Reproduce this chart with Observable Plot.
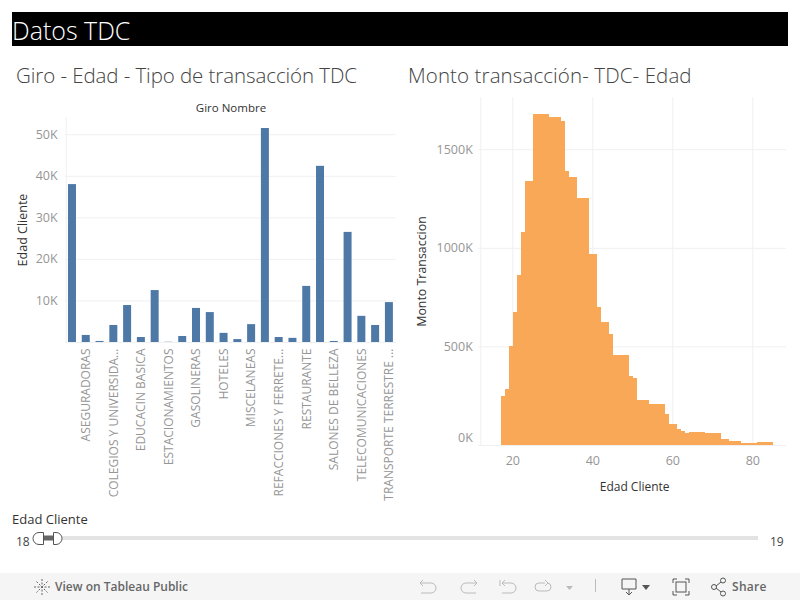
<!DOCTYPE html>
<html><head><meta charset="utf-8">
<script src="https://cdn.jsdelivr.net/npm/d3@7"></script>
<script src="https://cdn.jsdelivr.net/npm/@observablehq/plot@0.6"></script>
<style>
html,body{margin:0;padding:0;background:#fff;}
body{width:800px;height:600px;position:relative;overflow:hidden;font-family:"Open Sans",sans-serif;}
.abs{position:absolute;white-space:nowrap;}
#banner{left:12px;top:12px;width:776px;height:34px;background:#000;color:#fff;font-size:25px;line-height:36px;font-weight:300;}
.sub{top:62px;font-size:20.5px;line-height:26px;color:#444;font-weight:300;}
#chartA,#chartB{position:absolute;}
#chartA{left:0;top:95px;}
#chartB{left:400px;top:95px;}
#bar{left:0;top:573px;width:800px;height:27px;background:#f5f5f5;}
</style></head><body>
<div id="banner" class="abs">Datos TDC</div>
<div class="abs sub" style="left:16px;letter-spacing:-.08px">Giro - Edad - Tipo de transacción TDC</div>
<div class="abs sub" style="left:408px;letter-spacing:.1px">Monto transacción- TDC- Edad</div>
<div id="chartA"></div>
<div id="chartB"></div>
<div class="abs" style="left:12px;top:510px;font-size:13px;line-height:18px;color:#333">Edad Cliente</div>
<div class="abs" style="left:16px;top:532.500px;font-size:12px;line-height:18px;color:#444">18</div>
<div class="abs" style="left:770px;top:532.500px;font-size:12px;line-height:18px;color:#444">19</div>
<svg class="abs" style="left:0;top:525px" width="800" height="26">
<rect x="62" y="11" width="696" height="4" fill="#e3e3e3"/>
<rect x="42" y="10.5" width="12" height="5" fill="#666"/>
<path d="M43.5 7.5H39a6 6 0 0 0 0 12h4.5z" fill="#fff" stroke="#555"/>
<path d="M53.5 7.5H56a6 6 0 0 1 0 12h-2.5z" fill="#fff" stroke="#555"/>
</svg>
<div id="bar" class="abs"></div>
<svg class="abs" style="left:0;top:573px" width="800" height="27" fill="none" stroke="#bbb" stroke-width="1">
<g stroke="#666" stroke-dasharray="2 1.5"><path d="M42 6v16M34 14h16M36.5 8.5l11 11M47.5 8.5l-11 11"/></g>
<path d="M420 10h11a5 5 0 0 1 0 10h-10M423 7l-3 3 3 3"/>
<path d="M477 10h-11a5 5 0 0 0 0 10h10M474 7l3 3-3 3"/>
<path d="M502 10h9a5 5 0 0 1 0 10h-9M505 7l-3 3 3 3M500 7v6"/>
<path d="M539 10h6M539 10a4 4 0 0 0 0 8h8a4 4 0 0 0 0-8M545 7l3 3-3 3"/>
<path d="M566 13h7l-3.500 4z" fill="#bbb" stroke="none"/>
<path d="M595.500 6v13"/>
<g stroke="#555"><path d="M629 16h-7V6h14v10h-7v6M626 19l3 3 3-3"/><path d="M642 12h8l-4 5z" fill="#555" stroke="none"/>
<path d="M673 10V6h4M685 6h4v4M689 18v4h-4M677 22h-4v-4"/><rect x="676" y="9" width="10" height="10"/>
<circle cx="723" cy="7.500" r="2.500"/><circle cx="723" cy="20.500" r="2.500"/><circle cx="714" cy="14" r="2.500"/><path d="M716 13l5-4M716 15l5 4"/></g>
</svg>
<div class="abs" style="left:55px;top:578px;font-size:12px;line-height:18px;color:#666;font-weight:600">View on Tableau Public</div>
<div class="abs" style="left:732px;top:578px;font-size:12px;line-height:18px;color:#666;font-weight:600;letter-spacing:.3px">Share</div>
<script>
const giroNombres = ["Agencias de viajes","ASEGURADORAS","Beneficencia","COLEGIOS Y UNIVERSIDA...","Comida rapida","EDUCACIN BASICA","Entretenimiento","ESTACIONAMIENTOS","Farmacias","GASOLINERAS","Gobierno","HOTELES","Hospitales","MISCELANEAS","Otros servicios","REFACCIONES Y FERRETE...","Renta de autos","RESTAURANTE","Retail","SALONES DE BELLEZA","Supermercados","TELECOMUNICACIONES","Transporte aereo","TRANSPORTE TERRESTRE ..."];
const giroLabels = ["ASEGURADORAS","COLEGIOS Y UNIVERSIDA...","EDUCACIN BASICA","ESTACIONAMIENTOS","GASOLINERAS","HOTELES","MISCELANEAS","REFACCIONES Y FERRETE...","RESTAURANTE","SALONES DE BELLEZA","TELECOMUNICACIONES","TRANSPORTE TERRESTRE ..."];
const giroEdad = [38000,1700,250,4100,8900,1200,12500,50,1450,8200,7200,2200,700,4300,51500,1200,1000,13500,42400,250,26500,6300,4100,9600];
const giroTicks = [10000,20000,30000,40000,50000];

const edades = [18,19,20,21,22,23,24,25,26,27,28,29,30,31,32,33,34,35,36,37,38,39,40,41,42,43,44,45,46,47,48,49,50,51,52,53,54,55,56,57,58,59,60,61,62,63,64,65,66,67,68,69,70,71,72,73,74,75,76,77,78,79,80,81,82,83,84,85];
const montos = [248,284,500,674,861,1079,1338,1338,1677,1677,1677,1677,1662,1662,1662,1642,1389,1358,1358,1252,1252,1252,968,968,699,623,623,562,456,456,456,456,350,340,228,228,228,208,208,208,208,157,106,106,81,71,59,66,66,66,66,61,61,61,61,30,30,20,20,20,10,10,10,10,15,15,15,15];
const montoTicks = [500,1000,1500];
const edadTicks = [20,40,60,80];

const font = '"Open Sans",sans-serif';
const grid = "#f0f0f0", tickColor = "#969696", titleColor = "#333";
const kFmt = d => d/1000 + "K";

const giroRows = giroNombres.map((g,i)=>({g, v:giroEdad[i]}));
document.getElementById("chartA").append(Plot.plot({
  width:400, height:410, marginLeft:65.1, marginRight:4.200, marginTop:22, marginBottom:163,
  style:{fontFamily:font, fontSize:"11px", background:"transparent"},
  x:{domain:giroNombres, paddingInner:0.42, paddingOuter:0.21, align:0.5, round:false},
  y:{domain:[0,54150], ticks:giroTicks},
  marks:[
    Plot.ruleY([0,...giroTicks],{stroke:grid, strokeWidth:1}),
    Plot.ruleX([giroNombres[0]],{stroke:grid, dx:-6.3}),
    Plot.barY(giroRows,{x:"g", y:"v", fill:"#4e79a7"}),
    Plot.axisY({ticks:giroTicks, tickFormat:kFmt, tickSize:0, tickPadding:8, color:tickColor, label:null, fontSize:12.5}),
    Plot.axisX({ticks:giroLabels, tickRotate:-90, tickSize:0, tickPadding:6, color:tickColor, label:null, fontSize:12}),
    Plot.text(["Giro Nombre"],{frameAnchor:"top", dy:-9, lineAnchor:"middle", fill:titleColor, fontSize:11.5}),
    Plot.text(["Edad Cliente"],{frameAnchor:"left", textAnchor:"middle", dx:-43, rotate:-90, fill:titleColor, fontSize:12.5})
  ]
}));

const edadRows = edades.map((e,i)=>({e, m:montos[i]*1000}));
document.getElementById("chartB").append(Plot.plot({
  width:400, height:405, marginLeft:80.3, marginRight:12, marginTop:2, marginBottom:55,
  style:{fontFamily:font, fontSize:"11px", background:"transparent"},
  x:{domain:[12,88.93]},
  y:{domain:[0,1765000]},
  marks:[
    Plot.ruleY([0,...montoTicks].map(d=>d*1000),{stroke:grid, dx:-2}),
    Plot.ruleX([12,...edadTicks],{stroke:grid}),
    Plot.rectY(edadRows,{x1:d=>d.e-0.83, x2:d=>d.e+0.17, y:"m", fill:"#f9a857", shapeRendering:"crispEdges"}),
    Plot.axisY({ticks:montoTicks.map(d=>d*1000), tickFormat:kFmt, tickSize:0, tickPadding:8, color:tickColor, label:null, fontSize:12.5}),
    Plot.axisY({ticks:[0], tickFormat:()=>"0K", tickSize:0, tickPadding:8, dy:-8, color:tickColor, label:null, fontSize:12.5}),
    Plot.axisX({ticks:edadTicks, tickSize:0, tickPadding:11, color:tickColor, label:null, fontSize:12.5}),
    Plot.text(["Edad Cliente"],{frameAnchor:"bottom", dy:42, lineAnchor:"middle", fill:titleColor, fontSize:12}),
    Plot.text(["Monto Transaccion"],{frameAnchor:"left", textAnchor:"middle", dx:-59, rotate:-90, fill:titleColor, fontSize:12.4})
  ]
}));
</script>
</body></html>
